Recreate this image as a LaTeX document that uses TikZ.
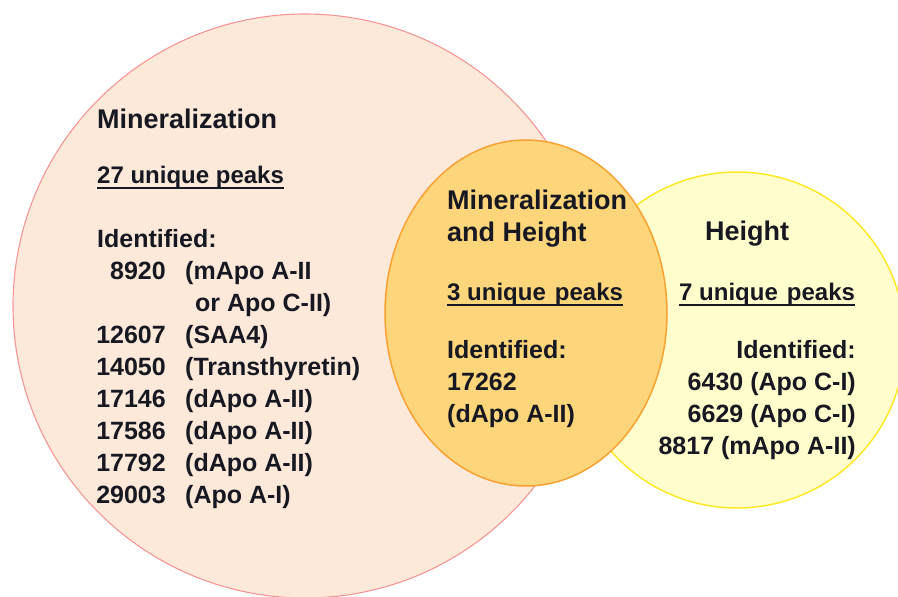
\documentclass[tikz,border=0pt]{standalone}
\usepackage{fontspec}
\setmainfont{Liberation Sans}
\definecolor{minfill}{RGB}{253,233,217}
\definecolor{mindraw}{RGB}{244,150,150}
\definecolor{hgtfill}{RGB}{255,254,204}
\definecolor{hgtdraw}{RGB}{255,232,40}
\definecolor{bothfill}{RGB}{253,213,122}
\definecolor{bothdraw}{RGB}{247,162,50}
\definecolor{ink}{RGB}{24,24,34}
\begin{document}
\begin{tikzpicture}[x=1pt,y=-1pt,
  lbl/.style={inner sep=0pt, text=ink, font=\fontsize{25}{25}\selectfont\bfseries},
  cnt/.style={lbl, font=\fontsize{24}{24}\selectfont\bfseries},
  ttl/.style={lbl, font=\fontsize{27}{27}\selectfont\bfseries},
  ul/.style={line width=1.5pt, draw=ink}]
\useasboundingbox (0,0) rectangle (898,597);
\clip (0,0) rectangle (898,597);

% the three sets
\filldraw[fill=minfill, draw=mindraw, line width=1.1pt] (305,306) circle[radius=292pt];
\filldraw[fill=hgtfill, draw=hgtdraw, line width=1.5pt] (737,340) circle[radius=168pt];
\filldraw[fill=bothfill, draw=bothdraw, line width=1.5pt] (526,313) ellipse[x radius=141pt, y radius=173pt];

% Mineralization only
\node[ttl, anchor=base west] (mTitle) at (97,128) {Mineralization};
\node[cnt, anchor=base west] (mCount) at (97,183) {27 unique peaks};
\draw[ul] ([yshift=-5pt]mCount.base west) -- ([yshift=-5pt]mCount.base east);
\node[lbl, anchor=base west] (mId) at (97,247) {Identified:};
\node[lbl, anchor=base east] (mN1) at (166,279) {8920};
\node[lbl, anchor=base west] (mP1) at (185,279) {(mApo A-II};
\node[lbl, anchor=base west] (mP1b) at (195,311) {or Apo C-II)};
\node[lbl, anchor=base east] (mN2) at (166,343) {12607};
\node[lbl, anchor=base west] (mP2) at (185,343) {(SAA4)};
\node[lbl, anchor=base east] (mN3) at (166,375) {14050};
\node[lbl, anchor=base west] (mP3) at (185,375) {(Transthyretin)};
\node[lbl, anchor=base east] (mN4) at (166,407) {17146};
\node[lbl, anchor=base west] (mP4) at (185,407) {(dApo A-II)};
\node[lbl, anchor=base east] (mN5) at (166,439) {17586};
\node[lbl, anchor=base west] (mP5) at (185,439) {(dApo A-II)};
\node[lbl, anchor=base east] (mN6) at (166,471) {17792};
\node[lbl, anchor=base west] (mP6) at (185,471) {(dApo A-II)};
\node[lbl, anchor=base east] (mN7) at (166,503) {29003};
\node[lbl, anchor=base west] (mP7) at (185,503) {(Apo A-I)};

% shared by both
\node[ttl, anchor=base west] (bTitle1) at (447,209) {Mineralization};
\node[ttl, anchor=base west] (bTitle2) at (447,241) {and Height};
\node[cnt, anchor=base west] (bCount) at (447,300) {3 unique\hspace{0.1em} peaks};
\draw[ul] ([yshift=-5pt]bCount.base west) -- ([yshift=-5pt]bCount.base east);
\node[lbl, anchor=base west] (bId) at (447,358) {Identified:};
\node[lbl, anchor=base west] (bN1) at (447,390) {17262};
\node[lbl, anchor=base west] (bP1) at (447,422) {(dApo A-II)};

% Height only
\node[ttl, anchor=base west] (hTitle) at (705,240) {Height};
\node[cnt, anchor=base west] (hCount) at (679,300) {7 unique\hspace{0.1em} peaks};
\draw[ul] ([yshift=-5pt]hCount.base west) -- ([yshift=-5pt]hCount.base east);
\node[lbl, anchor=base east] (hId) at (856,358) {Identified:};
\node[lbl, anchor=base east] (hL1) at (856,390) {6430 (Apo C-I)};
\node[lbl, anchor=base east] (hL2) at (856,422) {6629 (Apo C-I)};
\node[lbl, anchor=base east] (hL3) at (856,454) {8817 (mApo A-II)};
\end{tikzpicture}
\end{document}
